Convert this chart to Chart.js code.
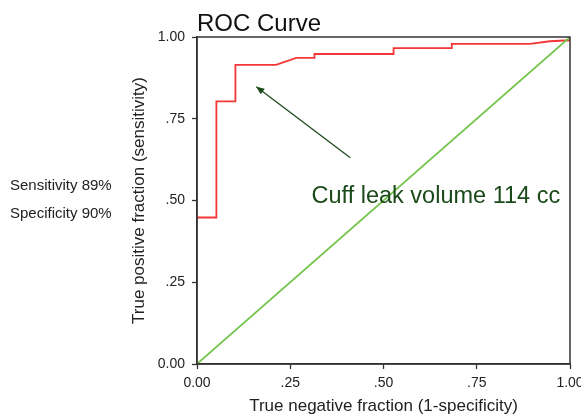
<!DOCTYPE html>
<html>
<head>
<meta charset="utf-8">
<script src="https://cdn.jsdelivr.net/npm/chart.js@4/dist/chart.umd.min.js"></script>
<style>
html,body{margin:0;padding:0;background:#fff;}
#c{display:block;}
</style>
</head>
<body>
<canvas id="c" width="581" height="416"></canvas>
<script>
// ROC curve (1-specificity vs sensitivity)
const rocFpr = [0, 0.052, 0.052, 0.103, 0.103, 0.212, 0.266, 0.315, 0.315, 0.527, 0.527, 0.683, 0.683, 0.893, 0.946, 1, 1];
const rocTpr = [0.448, 0.448, 0.803, 0.803, 0.915, 0.915, 0.936, 0.936, 0.948, 0.948, 0.966, 0.966, 0.979, 0.979, 0.987, 0.99, 1];
// Reference (chance) line
const refX = [0, 1];
const refY = [0, 1];
// Axis ticks
const tickValues = [0, 0.25, 0.5, 0.75, 1];
const tickLabels = ['0.00', '.25', '.50', '.75', '1.00'];
// Annotation (arrow from tail to head, label anchor) in data units
const arrowTail = [0.411, 0.631];
const arrowHead = [0.159, 0.848];
const noteAnchor = [0.307, 0.493];
const noteText = 'Cuff leak volume 114 cc';
const sideTexts = ['Sensitivity 89%', 'Specificity 90%'];
const titleText = 'ROC Curve';
const xTitle = 'True negative fraction (1-specificity)';
const yTitle = 'True positive fraction (sensitivity)';

const FONT = '"Liberation Sans", Arial, sans-serif';

const toPts = (xs, ys) => xs.map((x, i) => ({x: x, y: ys[i]}));

const overlay = {
  id: 'overlay',
  afterDraw(chart) {
    const ctx = chart.ctx;
    const a = chart.chartArea;
    const xs = chart.scales.x, ys = chart.scales.y;
    ctx.save();
    // frame
    ctx.strokeStyle = '#333';
    ctx.lineWidth = 1.5;
    ctx.strokeRect(a.left, a.top, a.right - a.left, a.bottom - a.top);
    // title
    ctx.fillStyle = '#111';
    ctx.font = '24px ' + FONT;
    ctx.textAlign = 'left';
    ctx.textBaseline = 'alphabetic';
    ctx.fillText(titleText, a.left, 31);
    // axis titles
    ctx.font = '17px ' + FONT;
    ctx.fillStyle = '#222';
    ctx.textAlign = 'center';
    ctx.textBaseline = 'middle';
    ctx.fillText(xTitle, (a.left + a.right) / 2, 406.5);
    ctx.save();
    ctx.translate(139, (a.top + a.bottom) / 2);
    ctx.rotate(-Math.PI / 2);
    ctx.fillText(yTitle, 0, 0);
    ctx.restore();
    // side texts
    ctx.font = '15px ' + FONT;
    ctx.textAlign = 'left';
    ctx.fillText(sideTexts[0], 10, 186);
    ctx.fillText(sideTexts[1], 10, 214);
    // arrow
    const tx = xs.getPixelForValue(arrowTail[0]), ty = ys.getPixelForValue(arrowTail[1]);
    const hx = xs.getPixelForValue(arrowHead[0]), hy = ys.getPixelForValue(arrowHead[1]);
    ctx.strokeStyle = '#1d4a1d';
    ctx.fillStyle = '#1d4a1d';
    ctx.lineWidth = 1.3;
    ctx.beginPath();
    ctx.moveTo(tx, ty);
    ctx.lineTo(hx, hy);
    ctx.stroke();
    const ang = Math.atan2(hy - ty, hx - tx);
    const L = 8, W = 3.5;
    ctx.beginPath();
    ctx.moveTo(hx, hy);
    ctx.lineTo(hx - L * Math.cos(ang) + W * Math.sin(ang), hy - L * Math.sin(ang) - W * Math.cos(ang));
    ctx.lineTo(hx - L * Math.cos(ang) - W * Math.sin(ang), hy - L * Math.sin(ang) + W * Math.cos(ang));
    ctx.closePath();
    ctx.fill();
    // note text
    ctx.font = '23.5px ' + FONT;
    ctx.fillStyle = '#1a4a1a';
    ctx.textAlign = 'left';
    ctx.textBaseline = 'alphabetic';
    ctx.fillText(noteText, xs.getPixelForValue(noteAnchor[0]), ys.getPixelForValue(noteAnchor[1]));
    ctx.restore();
  }
};

const scaleCommon = {
  type: 'linear',
  min: 0,
  max: 1,
  afterBuildTicks(scale) { scale.ticks = tickValues.map(v => ({value: v})); },
  grid: {drawOnChartArea: false, drawTicks: true, tickLength: 5, tickColor: '#333', tickWidth: 1.3},
  border: {display: true, color: '#333', width: 1.5},
};

new Chart(document.getElementById('c'), {
  type: 'scatter',
  data: {
    datasets: [
      {data: toPts(refX, refY), showLine: true, borderColor: '#74c44c', borderWidth: 1.7, pointRadius: 0, fill: false},
      {data: toPts(rocFpr, rocTpr), showLine: true, borderColor: '#f43636', borderWidth: 1.8, pointRadius: 0, fill: false}
    ]
  },
  options: {
    responsive: false,
    animation: false,
    layout: {padding: {left: 0, right: 11, top: 37, bottom: 0}},
    plugins: {legend: {display: false}, tooltip: {enabled: false}},
    scales: {
      x: Object.assign({}, scaleCommon, {
        position: 'bottom',
        ticks: {padding: 6, color: '#222', font: {family: FONT, size: 14}, maxRotation: 0,
                callback: (v, i) => tickLabels[i]},
        afterFit(scale) { scale.height = 52; scale.paddingLeft = 0; scale.paddingRight = 0; }
      }),
      y: Object.assign({}, scaleCommon, {
        position: 'left',
        ticks: {padding: 7, color: '#222', font: {family: FONT, size: 14},
                callback: (v, i) => tickLabels[i]},
        afterFit(scale) { scale.width = 197; scale.paddingTop = 0; scale.paddingBottom = 0; }
      })
    }
  },
  plugins: [overlay]
});
</script>
</body>
</html>
